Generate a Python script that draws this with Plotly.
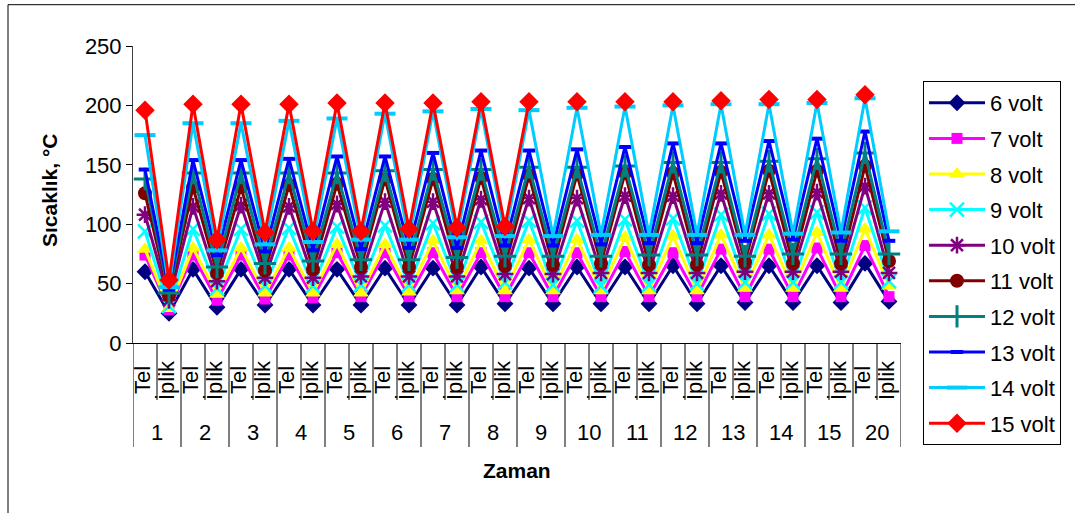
import plotly.graph_objects as go

groups = ["1", "2", "3", "4", "5", "6", "7", "8", "9", "10", "11", "12", "13", "14", "15", "20"]
parts = ["Tel", "İplik"]

series_names = ["6 volt", "7 volt", "8 volt", "9 volt", "10 volt",
                "11 volt", "12 volt", "13 volt", "14 volt", "15 volt"]

tel_6 = [60, 62, 62, 62, 62, 63, 63, 64, 63, 64, 64, 65, 65, 65, 65, 67]
ip_6 = [25, 30, 32, 32, 32, 32, 32, 33, 33, 33, 33, 33, 34, 34, 34, 35]
tel_7 = [74, 74, 74, 74, 76, 76, 76, 76, 76, 76, 77, 76, 79, 79, 80, 82]
ip_7 = [28, 36, 37, 38, 39, 39, 39, 39, 39, 39, 39, 39, 39, 39, 39, 39]
tel_8 = [79, 80, 80, 80, 83, 83, 86, 86, 87, 87, 89, 90, 91, 91, 93, 96]
ip_8 = [29, 41, 42, 42, 42, 43, 44, 44, 44, 44, 44, 44, 46, 46, 46, 48]
tel_9 = [94, 96, 96, 97, 98, 99, 101, 102, 103, 103, 104, 105, 108, 109, 110, 114]
ip_9 = [31, 46, 48, 48, 49, 49, 49, 51, 49, 48, 49, 50, 51, 51, 51, 52]
tel_10 = [108, 115, 116, 115, 117, 119, 119, 121, 122, 122, 124, 124, 126, 126, 127, 132]
ip_10 = [36, 52, 55, 55, 56, 56, 56, 58, 58, 59, 59, 59, 60, 60, 60, 59]
tel_11 = [126, 131, 131, 133, 134, 138, 138, 139, 141, 142, 143, 143, 144, 145, 145, 149]
ip_11 = [40, 59, 61, 62, 64, 64, 64, 65, 66, 67, 66, 66, 68, 67, 67, 69]
tel_12 = [138, 143, 143, 143, 143, 145, 146, 146, 148, 148, 149, 152, 152, 153, 155, 160]
ip_12 = [42, 64, 67, 69, 70, 70, 72, 73, 73, 73, 74, 74, 73, 75, 75, 75]
tel_13 = [146, 154, 154, 155, 157, 157, 160, 162, 162, 163, 165, 168, 168, 170, 172, 178]
ip_13 = [45, 74, 77, 78, 79, 80, 80, 82, 82, 83, 84, 84, 86, 87, 86, 86]
tel_14 = [175, 185, 185, 187, 189, 193, 195, 197, 196, 198, 199, 200, 201, 201, 202, 206]
ip_14 = [47, 78, 83, 85, 87, 87, 89, 90, 90, 91, 91, 91, 91, 92, 93, 94]
tel_15 = [196, 201, 201, 201, 202, 202, 202, 203, 203, 203, 203, 203, 204, 205, 205, 209]
ip_15 = [53, 87, 93, 94, 94, 96, 97, 98, None, None, None, None, None, None, None, None]

tel_all = [tel_6, tel_7, tel_8, tel_9, tel_10, tel_11, tel_12, tel_13, tel_14, tel_15]
ip_all = [ip_6, ip_7, ip_8, ip_9, ip_10, ip_11, ip_12, ip_13, ip_14, ip_15]

colors = ["#000080", "#FF00FF", "#FFFF00", "#00FFFF", "#800080",
          "#800000", "#008080", "#0000FF", "#00CCFF", "#FF0000"]
symbols = ["diamond", "square", "triangle-up", "x-thin-open", "asterisk-open",
           "circle", "cross-thin-open", "line-ew-open", "line-ew-open", "diamond"]
msizes = [13, 11, 14, 14, 14, 14, 16, 9, 15, 15]
mlw = [0, 0, 0, 2.5, 2.5, 0, 3, 4, 4, 0]

# unique category keys (group, part)
categories = [f"{g} {p}" for g in groups for p in parts]
cat_part = [p for _ in groups for p in parts]

FONT = "Arial, Liberation Sans, sans-serif"

# pixel geometry of the plot area
L, R, T, B = 133, 901, 46, 343
PW, PH = R - L, B - T


def py(pix):
    return (B - pix) / PH


def px(pix):
    return (pix - L) / PW


fig = go.Figure()
for i, name in enumerate(series_names):
    yvals = []
    for t, p in zip(tel_all[i], ip_all[i]):
        yvals.extend([t, p])
    fig.add_trace(go.Scatter(
        x=categories, y=yvals, name=name, mode="lines+markers",
        legendgroup=name,
        line=dict(color=colors[i], width=3),
        marker=dict(symbol=symbols[i], size=msizes[i], color=colors[i],
                    line=dict(color=colors[i], width=mlw[i])),
        connectgaps=False,
    ))

annotations = []
shapes = []
# inner level labels (Tel / İplik), rotated
for c, p in zip(categories, cat_part):
    annotations.append(dict(
        text=p, x=c, xref="x", yref="paper", y=py(380), textangle=-90,
        showarrow=False, xanchor="center", yanchor="middle", xshift=-3,
        font=dict(family=FONT, size=22, color="black")))
# outer level labels (group numbers)
n = len(categories)
for k, g in enumerate(groups):
    annotations.append(dict(
        text=g, x=2 * k + 0.5, xref="x", yref="paper", y=py(432),
        showarrow=False, xanchor="center", yanchor="middle",
        font=dict(family=FONT, size=22, color="black")))
# boundaries between categories
for j in range(n + 1):
    is_group = (j % 2 == 0)
    shapes.append(dict(
        type="line", xref="x", yref="paper", x0=j - 0.5, x1=j - 0.5,
        y0=0, y1=py(447) if is_group else py(400),
        line=dict(color="black", width=1)))

annotations += [
    dict(text="<b>Sıcaklık, °C</b>", xref="paper", yref="paper",
         x=px(49), y=py(191), textangle=-90,
         showarrow=False, xanchor="center", yanchor="middle",
         font=dict(family=FONT, size=21, color="black")),
    dict(text="<b>Zaman</b>", xref="paper", yref="paper",
         x=0.5, y=py(470), showarrow=False,
         xanchor="center", yanchor="middle",
         font=dict(family=FONT, size=21, color="black")),
]
shapes.append(dict(type="rect", xref="paper", yref="paper",
                   x0=px(8), x1=1.4, y0=-1.0, y1=py(4.7),
                   line=dict(color="black", width=1), layer="below"))

fig.update_layout(
    width=1075, height=513,
    margin=dict(l=L, r=1075 - R, t=T, b=513 - B, autoexpand=False),
    paper_bgcolor="white", plot_bgcolor="white",
    font=dict(family=FONT, color="black", size=21),
    showlegend=True,
    legend=dict(
        x=px(923), y=py(81), xanchor="left", yanchor="top",
        bordercolor="black", borderwidth=1, bgcolor="white",
        font=dict(family=FONT, size=22, color="black"),
        tracegroupgap=4, itemwidth=56, maxheight=600,
    ),
    xaxis=dict(
        type="category", categoryorder="array", categoryarray=categories,
        range=[-0.5, n - 0.5],
        showline=True, linecolor="black", linewidth=1,
        ticks="", showticklabels=False,
        showgrid=False, zeroline=False, automargin=False,
    ),
    yaxis=dict(
        range=[0, 250], dtick=50, showline=True, linecolor="#404040", linewidth=1,
        ticks="outside", ticklen=6, tickcolor="black",
        tickfont=dict(family=FONT, size=22, color="black"),
        showgrid=False, zeroline=False, automargin=False,
    ),
    annotations=annotations,
    shapes=shapes,
)

fig.write_html("out.html", config={"displayModeBar": False},
               post_script="document.body.style.margin='0px';")
